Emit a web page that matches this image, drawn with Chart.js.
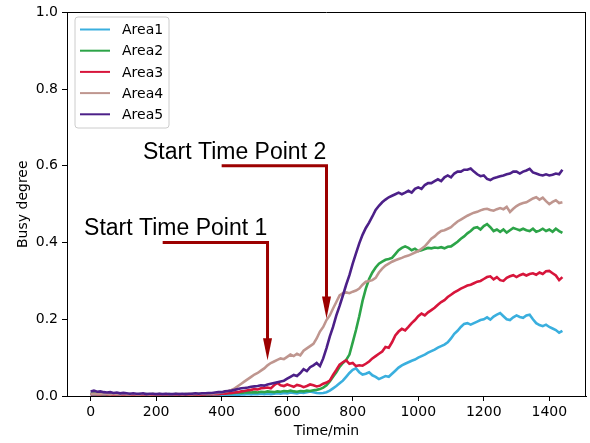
<!DOCTYPE html>
<html>
<head>
<meta charset="utf-8">
<script src="https://cdn.jsdelivr.net/npm/chart.js@4.4.1/dist/chart.umd.min.js"></script>
<style>
  html, body { margin: 0; padding: 0; background: #fff; }
  #wrap { width: 590px; height: 443px; position: relative; }
</style>
</head>
<body>
<div id="wrap"><canvas id="c" width="590" height="443"></canvas></div>
<script>
// ---- data ----
const times = [
  0,10,20,30,40,50,60,70,80,90,
  100,110,120,130,140,150,160,170,180,190,
  200,210,220,230,240,250,260,270,280,290,
  300,310,320,330,340,350,360,370,380,390,
  400,410,420,430,440,450,460,470,480,490,
  500,510,520,530,540,550,560,570,580,590,
  600,610,620,630,640,650,660,670,680,690,
  700,710,720,730,740,750,760,770,780,790,
  800,810,820,830,840,850,860,870,880,890,
  900,910,920,930,940,950,960,970,980,990,
  1000,1010,1020,1030,1040,1050,1060,1070,1080,1090,
  1100,1110,1120,1130,1140,1150,1160,1170,1180,1190,
  1200,1210,1220,1230,1240,1250,1260,1270,1280,1290,
  1300,1310,1320,1330,1340,1350,1360,1370,1380,1390,
  1400,1410,1420,1430,1440
];

const area1 = [
  0.003,0.004,0.003,0.002,0.003,0.002,0.002,0.003,0.002,0.002,
  0.002,0.001,0.002,0.002,0.001,0.002,0.002,0.001,0.002,0.001,
  0.002,0.002,0.001,0.002,0.002,0.001,0.002,0.001,0.002,0.002,
  0.001,0.002,0.002,0.002,0.001,0.002,0.002,0.002,0.003,0.002,
  0.003,0.002,0.003,0.003,0.004,0.003,0.004,0.004,0.005,0.004,
  0.005,0.005,0.006,0.005,0.006,0.005,0.006,0.007,0.006,0.008,
  0.007,0.009,0.008,0.007,0.009,0.008,0.010,0.012,0.010,0.008,
  0.007,0.008,0.010,0.014,0.020,0.026,0.033,0.040,0.050,0.060,
  0.068,0.072,0.062,0.056,0.058,0.062,0.054,0.050,0.044,0.048,
  0.052,0.050,0.058,0.066,0.074,0.080,0.084,0.088,0.092,0.095,
  0.100,0.104,0.108,0.113,0.117,0.121,0.126,0.130,0.134,0.140,
  0.150,0.162,0.170,0.180,0.188,0.190,0.186,0.190,0.194,0.198,
  0.200,0.205,0.199,0.207,0.212,0.216,0.208,0.200,0.198,0.205,
  0.210,0.206,0.204,0.210,0.212,0.200,0.190,0.185,0.182,0.186,
  0.180,0.176,0.172,0.165,0.170
];

const area2 = [
  0.006,0.007,0.006,0.005,0.006,0.005,0.005,0.006,0.005,0.004,
  0.005,0.004,0.005,0.004,0.004,0.005,0.004,0.005,0.004,0.005,
  0.004,0.005,0.004,0.004,0.005,0.004,0.005,0.004,0.004,0.005,
  0.004,0.005,0.005,0.006,0.005,0.006,0.005,0.006,0.006,0.007,
  0.006,0.007,0.008,0.007,0.008,0.009,0.008,0.009,0.010,0.009,
  0.010,0.009,0.011,0.010,0.012,0.011,0.010,0.012,0.011,0.013,
  0.012,0.014,0.012,0.011,0.013,0.012,0.014,0.013,0.015,0.016,
  0.018,0.022,0.028,0.038,0.050,0.062,0.076,0.086,0.094,0.108,
  0.140,0.172,0.208,0.248,0.280,0.305,0.322,0.335,0.345,0.350,
  0.355,0.357,0.360,0.370,0.380,0.386,0.390,0.386,0.380,0.384,
  0.378,0.380,0.383,0.386,0.385,0.387,0.386,0.388,0.385,0.389,
  0.390,0.396,0.402,0.410,0.416,0.424,0.430,0.438,0.440,0.434,
  0.443,0.448,0.440,0.430,0.434,0.428,0.434,0.426,0.432,0.438,
  0.435,0.432,0.436,0.432,0.430,0.436,0.428,0.431,0.436,0.430,
  0.434,0.428,0.436,0.430,0.425
];

const area3 = [
  0.004,0.005,0.004,0.004,0.005,0.004,0.004,0.003,0.004,0.004,
  0.003,0.004,0.003,0.004,0.003,0.003,0.004,0.003,0.003,0.004,
  0.003,0.004,0.003,0.003,0.004,0.003,0.004,0.003,0.003,0.004,
  0.003,0.004,0.004,0.003,0.004,0.004,0.005,0.004,0.005,0.005,
  0.006,0.006,0.007,0.008,0.009,0.010,0.012,0.013,0.015,0.016,
  0.018,0.017,0.020,0.021,0.022,0.020,0.028,0.034,0.028,0.026,
  0.030,0.027,0.024,0.029,0.027,0.023,0.026,0.030,0.028,0.025,
  0.027,0.032,0.035,0.040,0.055,0.068,0.082,0.088,0.093,0.084,
  0.086,0.078,0.080,0.079,0.084,0.090,0.098,0.104,0.110,0.116,
  0.128,0.126,0.140,0.158,0.168,0.175,0.171,0.180,0.190,0.198,
  0.208,0.215,0.210,0.218,0.224,0.230,0.238,0.245,0.250,0.258,
  0.264,0.270,0.275,0.280,0.284,0.288,0.290,0.294,0.298,0.300,
  0.305,0.310,0.312,0.304,0.310,0.302,0.300,0.308,0.312,0.315,
  0.310,0.315,0.318,0.314,0.318,0.320,0.316,0.322,0.318,0.325,
  0.326,0.320,0.314,0.302,0.310
];

const area4 = [
  0.005,0.006,0.005,0.005,0.006,0.005,0.004,0.005,0.005,0.004,
  0.005,0.004,0.004,0.005,0.004,0.004,0.005,0.004,0.004,0.005,
  0.004,0.005,0.004,0.005,0.004,0.004,0.005,0.005,0.004,0.005,
  0.005,0.005,0.006,0.005,0.006,0.006,0.007,0.006,0.007,0.008,
  0.009,0.011,0.013,0.016,0.020,0.026,0.032,0.038,0.044,0.050,
  0.056,0.060,0.066,0.072,0.080,0.086,0.090,0.094,0.098,0.096,
  0.102,0.108,0.104,0.110,0.106,0.118,0.124,0.130,0.136,0.150,
  0.168,0.180,0.198,0.210,0.228,0.245,0.262,0.268,0.270,0.268,
  0.272,0.275,0.280,0.290,0.298,0.300,0.302,0.308,0.322,0.332,
  0.340,0.345,0.350,0.354,0.357,0.360,0.364,0.366,0.370,0.374,
  0.378,0.384,0.390,0.400,0.410,0.416,0.424,0.430,0.432,0.436,
  0.440,0.448,0.455,0.460,0.465,0.470,0.474,0.478,0.480,0.484,
  0.487,0.488,0.485,0.483,0.487,0.490,0.487,0.493,0.480,0.488,
  0.495,0.500,0.503,0.505,0.510,0.515,0.518,0.512,0.517,0.508,
  0.500,0.506,0.510,0.503,0.505
];

const area5 = [
  0.012,0.014,0.011,0.012,0.010,0.009,0.010,0.008,0.009,0.007,
  0.008,0.007,0.006,0.007,0.006,0.006,0.007,0.005,0.006,0.006,
  0.005,0.006,0.005,0.006,0.005,0.005,0.006,0.005,0.006,0.005,
  0.006,0.006,0.007,0.006,0.007,0.007,0.008,0.008,0.009,0.010,
  0.010,0.012,0.013,0.014,0.016,0.018,0.020,0.021,0.022,0.024,
  0.025,0.026,0.028,0.027,0.030,0.032,0.034,0.036,0.038,0.040,
  0.045,0.050,0.055,0.052,0.060,0.070,0.065,0.075,0.080,0.086,
  0.078,0.098,0.125,0.155,0.180,0.210,0.235,0.262,0.290,0.315,
  0.345,0.372,0.398,0.420,0.438,0.452,0.468,0.485,0.496,0.505,
  0.512,0.518,0.522,0.526,0.530,0.526,0.530,0.535,0.530,0.540,
  0.544,0.540,0.550,0.555,0.555,0.560,0.565,0.560,0.570,0.575,
  0.570,0.580,0.585,0.585,0.590,0.590,0.593,0.585,0.578,0.573,
  0.575,0.566,0.563,0.568,0.570,0.573,0.575,0.578,0.580,0.585,
  0.585,0.580,0.585,0.588,0.592,0.583,0.580,0.577,0.575,0.578,
  0.575,0.577,0.580,0.578,0.590
];

const seriesNames = ['Area1', 'Area2', 'Area3', 'Area4', 'Area5'];
const seriesValues = [area1, area2, area3, area4, area5];
const seriesColors = ['#3aafde', '#2ca448', '#d7153b', '#bf968f', '#4c2088'];

const xTickValues = [0, 200, 400, 600, 800, 1000, 1200, 1400];
const yTickValues = [0.0, 0.2, 0.4, 0.6, 0.8, 1.0];

// annotations (data coordinates): label, text position, arrow start x, arrow bend (x,y), arrow tip y
const annotLabels = ['Start Time Point 1', 'Start Time Point 2'];
const annotTextAt = [[-20, 0.42], [160, 0.618]];
const annotArrowFromX = [220, 400];
const annotBend = [[540, 0.40], [720, 0.60]];
const annotTipY = [0.093, 0.202];

// ---- chart ----
const datasets = seriesNames.map((name, i) => ({
  label: name,
  data: times.map((t, j) => ({ x: t, y: seriesValues[i][j] })),
  borderColor: seriesColors[i],
  backgroundColor: seriesColors[i],
  borderWidth: 2.6,
  pointRadius: 0,
  tension: 0,
  fill: false,
  order: seriesNames.length - i
}));

const overlay = {
  id: 'overlay',
  afterDatasetsDraw(chart) {
    const { ctx, chartArea: ca, scales: { x, y } } = chart;
    ctx.save();
    // top and right spines
    ctx.strokeStyle = '#000';
    ctx.lineWidth = 1;
    ctx.beginPath();
    ctx.moveTo(ca.left, Math.round(ca.top) + 0.5);
    ctx.lineTo(ca.right, Math.round(ca.top) + 0.5);
    ctx.moveTo(Math.round(ca.right) - 0.5, ca.top);
    ctx.lineTo(Math.round(ca.right) - 0.5, ca.bottom);
    ctx.stroke();

    // annotations
    const arrowColor = '#9c0000';
    for (let i = 0; i < annotLabels.length; i++) {
      const x0 = x.getPixelForValue(annotArrowFromX[i]);
      const xb = x.getPixelForValue(annotBend[i][0]);
      const yb = y.getPixelForValue(annotBend[i][1]);
      const yt = y.getPixelForValue(annotTipY[i]);
      const headLen = 22, headHalf = 4.5;
      ctx.strokeStyle = arrowColor;
      ctx.fillStyle = arrowColor;
      ctx.lineWidth = 3;
      ctx.lineJoin = 'miter';
      ctx.beginPath();
      ctx.moveTo(x0, yb);
      ctx.lineTo(xb, yb);
      ctx.lineTo(xb, yt - headLen + 2);
      ctx.stroke();
      ctx.beginPath();
      ctx.moveTo(xb - headHalf, yt - headLen);
      ctx.lineTo(xb + headHalf, yt - headLen);
      ctx.lineTo(xb, yt);
      ctx.closePath();
      ctx.fill();

      ctx.fillStyle = '#000';
      ctx.font = '23px "Liberation Sans", Arial, sans-serif';
      ctx.textAlign = 'left';
      ctx.textBaseline = 'alphabetic';
      ctx.fillText(annotLabels[i], x.getPixelForValue(annotTextAt[i][0]), y.getPixelForValue(annotTextAt[i][1]));
    }

    // legend (upper left, inside the axes)
    const lx = 75, ly = 17, lw = 94, lh = 111, r = 3;
    ctx.beginPath();
    ctx.moveTo(lx + r, ly);
    ctx.lineTo(lx + lw - r, ly);
    ctx.quadraticCurveTo(lx + lw, ly, lx + lw, ly + r);
    ctx.lineTo(lx + lw, ly + lh - r);
    ctx.quadraticCurveTo(lx + lw, ly + lh, lx + lw - r, ly + lh);
    ctx.lineTo(lx + r, ly + lh);
    ctx.quadraticCurveTo(lx, ly + lh, lx, ly + lh - r);
    ctx.lineTo(lx, ly + r);
    ctx.quadraticCurveTo(lx, ly, lx + r, ly);
    ctx.closePath();
    ctx.fillStyle = 'rgba(255,255,255,0.8)';
    ctx.fill();
    ctx.strokeStyle = '#cccccc';
    ctx.lineWidth = 1;
    ctx.stroke();

    ctx.font = '14px "DejaVu Sans", sans-serif';
    ctx.textBaseline = 'middle';
    ctx.textAlign = 'left';
    chart.data.datasets.forEach((ds, i) => {
      const yy = 29.5 + i * 21.2;
      ctx.strokeStyle = ds.borderColor;
      ctx.lineWidth = 2;
      ctx.beginPath();
      ctx.moveTo(80, yy);
      ctx.lineTo(110, yy);
      ctx.stroke();
      ctx.fillStyle = '#000';
      ctx.fillText(ds.label, 122, yy + 1);
    });
    ctx.restore();
  }
};

const tickFont = { family: '"DejaVu Sans", sans-serif', size: 14 };

new Chart(document.getElementById('c'), {
  type: 'line',
  data: { datasets },
  options: {
    responsive: false,
    animation: false,
    events: [],
    layout: { padding: { left: 0, right: 4, top: 10, bottom: 0 } },
    plugins: { legend: { display: false }, tooltip: { enabled: false } },
    scales: {
      x: {
        type: 'linear',
        min: -72,
        max: 1512,
        afterBuildTicks: (s) => { s.ticks = xTickValues.map(v => ({ value: v })); },
        afterFit: (s) => { s.height = 47; },
        ticks: { font: tickFont, color: '#000', padding: 3, maxRotation: 0, autoSkip: false,
                 callback: (v) => String(v) },
        grid: { display: true, drawOnChartArea: false, drawTicks: true, tickLength: 5, color: '#000', lineWidth: 1 },
        border: { display: true, color: '#000', width: 1 },
        title: { display: true, text: 'Time/min', font: tickFont, color: '#000', padding: { top: 0, bottom: 3 } }
      },
      y: {
        type: 'linear',
        min: 0,
        max: 1.0,
        afterBuildTicks: (s) => { s.ticks = yTickValues.map(v => ({ value: v })); },
        afterFit: (s) => { s.width = 67; },
        ticks: { font: tickFont, color: '#000', padding: 4, autoSkip: false,
                 callback: (v) => Number(v).toFixed(1) },
        grid: { display: true, drawOnChartArea: false, drawTicks: true, tickLength: 5, color: '#000', lineWidth: 1 },
        border: { display: true, color: '#000', width: 1 },
        title: { display: true, text: 'Busy degree', font: tickFont, color: '#000', padding: { top: 15, bottom: 0 } }
      }
    }
  },
  plugins: [overlay]
});
</script>
</body>
</html>
